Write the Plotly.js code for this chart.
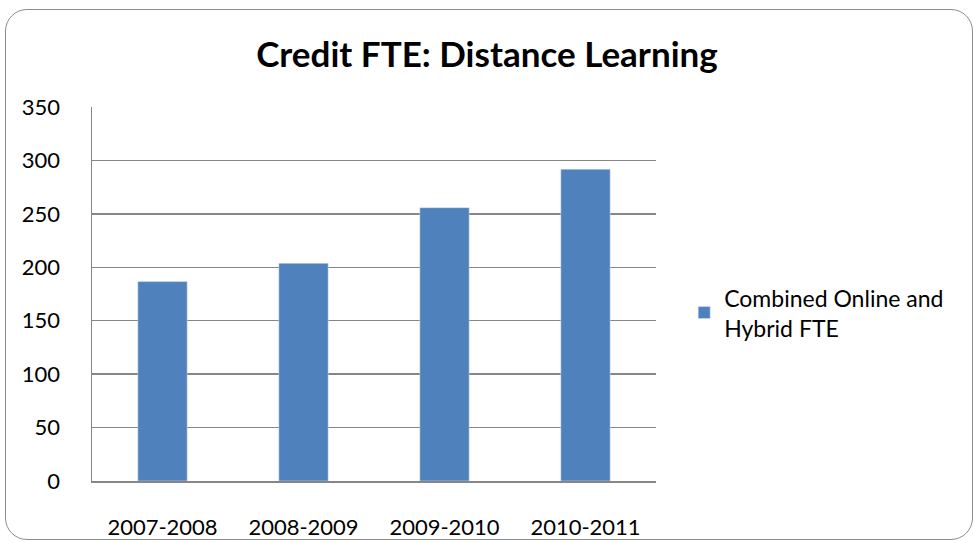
<!DOCTYPE html>
<html><head><meta charset="utf-8">
<script src="https://cdn.plot.ly/plotly-3.0.1.min.js"></script>
<style>
html,body{margin:0;padding:0;background:#fff;}
#frame{position:absolute;left:5px;top:9px;width:968px;height:531px;border:1px solid #8c8c8c;border-radius:22px;box-sizing:border-box;}
#chart{position:absolute;left:0;top:0;width:974px;height:543px;}
</style></head>
<body>
<div id="frame"></div>
<div id="chart"></div>
<script>
const categories = ["2007-2008","2008-2009","2009-2010","2010-2011"];
const fteValues = [186.6, 203.7, 255.8, 291.8];
const seriesName = "Combined Online and<br>Hybrid FTE";
const titleText = "<b>Credit FTE: Distance Learning</b>";

const font = "Lato, 'Open Sans', sans-serif";
Plotly.newPlot("chart", [{
  type: "bar", x: categories, y: fteValues, name: seriesName,
  marker: {color: "#4f81bd", line: {color: "#dce6f2", width: 0.5}},
  showlegend: true
}], {
  width: 974, height: 543,
  paper_bgcolor: "rgba(0,0,0,0)", plot_bgcolor: "rgba(0,0,0,0)",
  margin: {l: 92, r: 318, t: 107, b: 62},
  title: {text: titleText, font: {family: font, size: 35, color: "#000"}, x: 0.5, xanchor: "center", y: 0.9, yanchor: "middle"},
  bargap: 0.65,
  xaxis: {showgrid: false, showline: true, linecolor: "#868686", linewidth: 1.5,
    tickfont: {family: font, size: 22, color: "#000"}, ticks: "", ticklabelstandoff: 26, fixedrange: true},
  yaxis: {range: [0, 350], dtick: 50, showgrid: true, gridcolor: "#868686", gridwidth: 1.5,
    showline: true, linecolor: "#868686", linewidth: 1.5, zeroline: false,
    tickfont: {family: font, size: 22, color: "#000"}, ticks: "", ticklabelstandoff: 26, fixedrange: true},
  legend: {x: 1.05, xanchor: "left", y: 0.45, yanchor: "middle", font: {family: font, size: 23, color: "#000"},
    itemwidth: 30, tracegroupgap: 0, bgcolor: "rgba(0,0,0,0)"},
  showlegend: true
}, {displayModeBar: false, staticPlot: true});
</script>
</body></html>
